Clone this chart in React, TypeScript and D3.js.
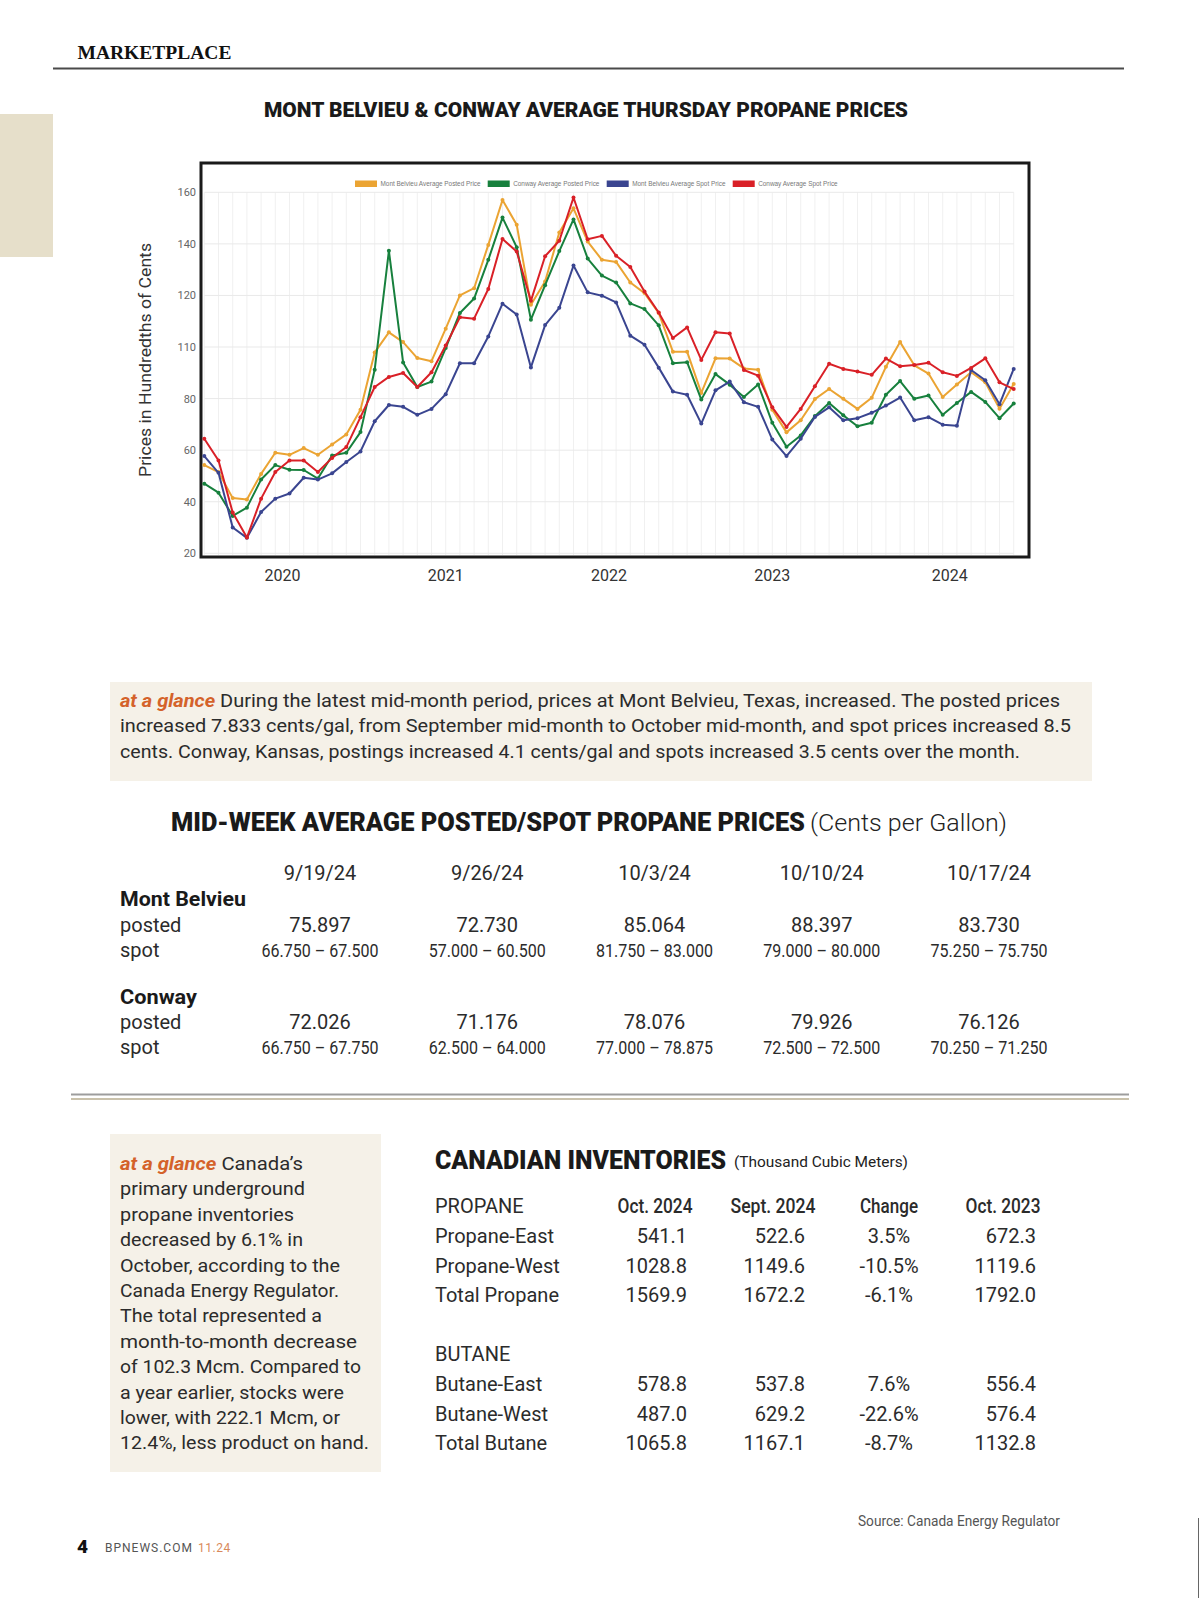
import React from 'react';
import * as d3 from 'd3';

// Thursday average propane prices (hundredths of cents)
const mbPosted = [54.2, 51.5, 41.4, 40.9, 50.8, 59, 58.2, 60.8, 58.2, 62.2, 66.1, 75.7, 97.9, 105.7, 101.9, 95.7, 94.5, 107.1, 120, 122.8, 139.6, 157, 147.4, 116.4, 125.4, 144.4, 153.8, 140.9, 133.8, 133, 125, 120.9, 113.2, 98.2, 98.2, 82.2, 95.6, 95.5, 91.7, 91.2, 75.7, 66.9, 71.6, 79.8, 83.7, 79.9, 76, 80.3, 92.3, 101.9, 92.9, 89.7, 80.6, 85.5, 90.2, 86.3, 76.1, 85.7];
const cwPosted = [47, 43.5, 34.5, 37.7, 48.6, 54.2, 52.4, 52.3, 49, 57.9, 59, 67, 91.2, 137.3, 94, 84.5, 86.6, 99.6, 113.2, 118.8, 133.8, 150.2, 138.7, 110.6, 124, 137.2, 149.5, 134.3, 127.7, 125, 116.9, 114.7, 108.4, 93.7, 94.1, 79.6, 89.5, 85.4, 80.6, 85.5, 70.6, 61.3, 65.7, 73.2, 78.3, 73.5, 69.3, 70.6, 81.5, 86.8, 79.9, 81.2, 73.7, 78.3, 82.6, 78.7, 72.4, 78.1];
const mbSpot = [57.7, 51.2, 30, 26, 36, 41.2, 43.2, 49.3, 48.6, 51, 55.4, 59.5, 71.2, 77.5, 76.8, 73.7, 76, 81.7, 93.7, 93.7, 104.1, 116.8, 112.6, 92.1, 108.5, 115.2, 131.6, 121.2, 119.9, 117.3, 104.4, 100.9, 92, 82.7, 81.5, 70.3, 83.2, 86.6, 78.6, 76.8, 64.1, 57.7, 64.4, 72.9, 76.6, 71.6, 72.4, 74.5, 77.3, 80.4, 71.6, 72.8, 69.9, 69.5, 91.1, 87.1, 77.8, 91.5];
const cwSpot = [64.4, 56, 35.8, 26.1, 41.2, 51.5, 56, 56, 51.5, 57, 61.2, 72.8, 84.5, 88.4, 89.9, 84.5, 90.2, 100.6, 111.5, 111, 122.5, 141.9, 137, 117.9, 135.2, 141.2, 158, 141.8, 143.1, 135.4, 131, 121.5, 113.4, 103.5, 107.6, 95, 105.7, 105.2, 91.1, 88.9, 76.6, 69, 76, 84.8, 93.5, 91.5, 90.5, 89.2, 95.5, 92.5, 93, 93.9, 90.2, 88.8, 91.9, 95.6, 86.3, 83.7];

const seriesNames = ['Mont Belvieu Average Posted Price', 'Conway Average Posted Price', 'Mont Belvieu Average Spot Price', 'Conway Average Spot Price'];
const seriesColors = ['#eba433', '#17803d', '#3a4590', '#d92027'];
const seriesValues = [mbPosted, cwPosted, mbSpot, cwSpot];

const yTickValues = [20, 40, 60, 80, 100, 120, 140, 160];
const yTickLabels = ['20', '40', '60', '80', '110', '120', '140', '160'];
const yearLabels = ['2020', '2021', '2022', '2023', '2024'];
const yearAt = [5.5, 17, 28.5, 40, 52.5];

// mid-week table
const weekDates = ['9/19/24', '9/26/24', '10/3/24', '10/10/24', '10/17/24'];
const mbPostedWeek = ['75.897', '72.730', '85.064', '88.397', '83.730'];
const mbSpotWeek = ['66.750 – 67.500', '57.000 – 60.500', '81.750 – 83.000', '79.000 – 80.000', '75.250 – 75.750'];
const cwPostedWeek = ['72.026', '71.176', '78.076', '79.926', '76.126'];
const cwSpotWeek = ['66.750 – 67.750', '62.500 – 64.000', '77.000 – 78.875', '72.500 – 72.500', '70.250 – 71.250'];

// Canadian inventories
const invHeaders = ['Oct. 2024', 'Sept. 2024', 'Change', 'Oct. 2023'];
const propaneRows = ['Propane-East', 'Propane-West', 'Total Propane'];
const propaneVals = [
	['541.1', '522.6', '3.5%', '672.3'],
	['1028.8', '1149.6', '-10.5%', '1119.6'],
	['1569.9', '1672.2', '-6.1%', '1792.0'],
];
const butaneRows = ['Butane-East', 'Butane-West', 'Total Butane'];
const butaneVals = [
	['578.8', '537.8', '7.6%', '556.4'],
	['487.0', '629.2', '-22.6%', '576.4'],
	['1065.8', '1167.1', '-8.7%', '1132.8'],
];

const glance1 = [
	{ lead: 'at a glance', text: ' During the latest mid-month period, prices at Mont Belvieu, Texas, increased. The posted prices', w: 940 },
	{ lead: '', text: 'increased 7.833 cents/gal, from September mid-month to October mid-month, and spot prices increased 8.5', w: 951 },
	{ lead: '', text: 'cents. Conway, Kansas, postings increased 4.1 cents/gal and spots increased 3.5 cents over the month.', w: 900 },
];
const glance2 = [
	{ lead: 'at a glance', text: ' Canada’s', w: 183 },
	{ lead: '', text: 'primary underground', w: 185 },
	{ lead: '', text: 'propane inventories', w: 174 },
	{ lead: '', text: 'decreased by 6.1% in', w: 183 },
	{ lead: '', text: 'October, according to the', w: 220 },
	{ lead: '', text: 'Canada Energy Regulator.', w: 219 },
	{ lead: '', text: 'The total represented a', w: 202 },
	{ lead: '', text: 'month-to-month decrease', w: 237 },
	{ lead: '', text: 'of 102.3 Mcm. Compared to', w: 241 },
	{ lead: '', text: 'a year earlier, stocks were', w: 224 },
	{ lead: '', text: 'lower, with 222.1 Mcm, or', w: 220 },
	{ lead: '', text: '12.4%, less product on hand.', w: 249 },
];

const SANS = 'Roboto, "Noto Sans", sans-serif';
const ORANGE = '#d4622a';
const INK = '#2b2b2b';

const App: React.FC = () => {
	const x = d3.scaleLinear().domain([0, mbPosted.length - 1]).range([204.3, 1013.7]);
	const y = d3.scaleLinear().domain([20, 160]).range([553.3, 192.3]);
	const line = d3.line<number>().x((_, i) => x(i)).y((d) => y(d));

	const weekX = d3.scalePoint<string>().domain(weekDates).range([320, 989]);

	const invNumX = [687, 805, 889, 1036];
	const invHeadX = [655, 773, 889, 1003];
	const invHeadW = [75, 85, 58, 75];

	const legendX = [355, 487.7, 606.7, 732.7];

	return (
		<svg
			width={1200}
			height={1598}
			style={{ position: 'absolute', left: 0, top: 0, background: '#fff' }}
			fontFamily={SANS}
		>
			<rect x={0} y={0} width={1200} height={1598} fill='#fff' />
			{/* header */}
			<text x={77.5} y={59} fontFamily='"Liberation Serif", serif' fontWeight='bold' fontSize={19} textLength={154} lengthAdjust='spacingAndGlyphs' fill='#111'>MARKETPLACE</text>
			<line x1={53} x2={1124} y1={68.5} y2={68.5} stroke='#4a4a4a' strokeWidth={2} />
			<rect x={0} y={114} width={53} height={143} fill='#e6dfca' />

			<text x={586} y={116.5} textAnchor='middle' fontWeight={900} fontSize={21} textLength={644} lengthAdjust='spacingAndGlyphs' fill='#1a1a1a'>MONT BELVIEU &amp; CONWAY AVERAGE THURSDAY PROPANE PRICES</text>

			{/* chart */}
			<rect x={201} y={163} width={828} height={394} fill='#fff' stroke='#1a1a1a' strokeWidth={3} />
			{mbPosted.map((_, i) => (
				<line key={'vg' + i} x1={x(i)} x2={x(i)} y1={y(160)} y2={555} stroke='#f0f0f0' strokeWidth={1} />
			))}
			{yTickValues.map((v) => (
				<line key={'hg' + v} x1={x(0)} x2={x(mbPosted.length - 1)} y1={y(v)} y2={y(v)} stroke='#e9e9e9' strokeWidth={1} />
			))}
			{yTickValues.map((v, i) => (
				<text key={'yl' + v} x={196} y={y(v) + 4} textAnchor='end' fontSize={11} fill='#666'>{yTickLabels[i]}</text>
			))}
			<text transform='translate(151,360) rotate(-90)' textAnchor='middle' fontSize={16} textLength={234} lengthAdjust='spacingAndGlyphs' fill='#333'>Prices in Hundredths of Cents</text>
			{yearLabels.map((lab, i) => (
				<text key={lab} x={x(yearAt[i])} y={581} textAnchor='middle' fontSize={16} fill='#333'>{lab}</text>
			))}
			{seriesValues.map((vals, s) => (
				<g key={'s' + s}>
					<path d={line(vals) ?? ''} fill='none' stroke={seriesColors[s]} strokeWidth={2} strokeLinejoin='round' />
					{vals.map((v, i) => (
						<circle key={i} cx={x(i)} cy={y(v)} r={2} fill={seriesColors[s]} />
					))}
				</g>
			))}
			{seriesNames.map((n, i) => (
				<g key={n}>
					<rect x={legendX[i]} y={180.5} width={22} height={6.5} fill={seriesColors[i]} />
					<text x={legendX[i] + 25.5} y={186} fontSize={6.4} fontFamily='"Liberation Sans", Arial, sans-serif' fill='#777'>{n}</text>
				</g>
			))}

			{/* at a glance 1 */}
			<rect x={110} y={682} width={982} height={99} fill='#f5f1e8' />
			{glance1.map((l, i) => (
				<text key={'g1' + i} x={120} y={707 + i * 25.3} fontSize={18} textLength={l.w} lengthAdjust='spacingAndGlyphs' fill={INK}>
					{l.lead && <tspan fill={ORANGE} fontWeight='bold' fontStyle='italic'>{l.lead}</tspan>}
					{l.text}
				</text>
			))}

			{/* mid-week table */}
			<text x={171} y={831} fontWeight={900} fontSize={26} textLength={634} lengthAdjust='spacingAndGlyphs' fill='#1a1a1a'>MID-WEEK AVERAGE POSTED/SPOT PROPANE PRICES</text>
			<text x={810} y={831} fontSize={24} fontWeight={300} textLength={197} lengthAdjust='spacingAndGlyphs' fill='#222'>(Cents per Gallon)</text>
			{weekDates.map((d) => (
				<text key={d} x={weekX(d)} y={880} textAnchor='middle' fontSize={20} fill={INK}>{d}</text>
			))}
			<text x={120} y={906} fontSize={21} fontWeight='bold' fill='#1a1a1a' textLength={126} lengthAdjust='spacingAndGlyphs'>Mont Belvieu</text>
			<text x={120} y={932} fontSize={20} fill={INK}>posted</text>
			<text x={120} y={957} fontSize={20} fill={INK}>spot</text>
			{weekDates.map((d, i) => (
				<g key={'mb' + d}>
					<text x={weekX(d)} y={932} textAnchor='middle' fontSize={20} fill={INK}>{mbPostedWeek[i]}</text>
					<text x={weekX(d)} y={957} textAnchor='middle' fontSize={19} textLength={117} lengthAdjust='spacingAndGlyphs' fill={INK}>{mbSpotWeek[i]}</text>
				</g>
			))}
			<text x={120} y={1004} fontSize={21} fontWeight='bold' fill='#1a1a1a' textLength={77} lengthAdjust='spacingAndGlyphs'>Conway</text>
			<text x={120} y={1029} fontSize={20} fill={INK}>posted</text>
			<text x={120} y={1054} fontSize={20} fill={INK}>spot</text>
			{weekDates.map((d, i) => (
				<g key={'cw' + d}>
					<text x={weekX(d)} y={1029} textAnchor='middle' fontSize={20} fill={INK}>{cwPostedWeek[i]}</text>
					<text x={weekX(d)} y={1054} textAnchor='middle' fontSize={19} textLength={117} lengthAdjust='spacingAndGlyphs' fill={INK}>{cwSpotWeek[i]}</text>
				</g>
			))}

			<line x1={71} x2={1129} y1={1094.5} y2={1094.5} stroke='#9d9d9d' strokeWidth={2} />
			<line x1={71} x2={1129} y1={1099} y2={1099} stroke='#c9c1ab' strokeWidth={2} />

			{/* at a glance 2 */}
			<rect x={110} y={1134} width={271} height={338} fill='#f5f1e8' />
			{glance2.map((l, i) => (
				<text key={'g2' + i} x={120} y={1170 + i * 25.4} fontSize={19} textLength={l.w} lengthAdjust='spacingAndGlyphs' fill={INK}>
					{l.lead && <tspan fill={ORANGE} fontWeight='bold' fontStyle='italic'>{l.lead}</tspan>}
					{l.text}
				</text>
			))}

			{/* Canadian inventories */}
			<text x={435} y={1169} fontWeight={900} fontSize={26} textLength={291} lengthAdjust='spacingAndGlyphs' fill='#1a1a1a'>CANADIAN INVENTORIES</text>
			<text x={734} y={1167} fontSize={15} textLength={174} lengthAdjust='spacingAndGlyphs' fill='#222'>(Thousand Cubic Meters)</text>
			<text x={435} y={1213} fontSize={20} fill={INK}>PROPANE</text>
			{invHeaders.map((h, i) => (
				<text key={h} x={invHeadX[i]} y={1213} textAnchor='middle' fontSize={20} fontWeight={500} textLength={invHeadW[i]} lengthAdjust='spacingAndGlyphs' fill={INK}>{h}</text>
			))}
			{propaneRows.map((r, j) => (
				<g key={r}>
					<text x={435} y={1243 + j * 29.5} fontSize={20} fill={INK}>{r}</text>
					{propaneVals[j].map((v, i) => (
						<text key={i} x={invNumX[i]} y={1243 + j * 29.5} textAnchor={i === 2 ? 'middle' : 'end'} fontSize={20} fill={INK}>{v}</text>
					))}
				</g>
			))}
			<text x={435} y={1361} fontSize={20} fill={INK}>BUTANE</text>
			{butaneRows.map((r, j) => (
				<g key={r}>
					<text x={435} y={1391 + j * 29.5} fontSize={20} fill={INK}>{r}</text>
					{butaneVals[j].map((v, i) => (
						<text key={i} x={invNumX[i]} y={1391 + j * 29.5} textAnchor={i === 2 ? 'middle' : 'end'} fontSize={20} fill={INK}>{v}</text>
					))}
				</g>
			))}
			<text x={858} y={1526} fontSize={14} textLength={202} lengthAdjust='spacingAndGlyphs' fill='#555'>Source: Canada Energy Regulator</text>

			{/* footer */}
			<text x={77} y={1553} fontSize={19} fontWeight={900} fill='#111'>4</text>
			<text x={105} y={1552} fontSize={12} letterSpacing={1} fill='#555'>BPNEWS.COM</text>
			<text x={198} y={1552} fontSize={12} letterSpacing={0.5} fill='#d98a5a'>11.24</text>
			<line x1={1198.5} x2={1198.5} y1={1518} y2={1598} stroke='#666' strokeWidth={1} />
		</svg>
	);
};

export default App;
